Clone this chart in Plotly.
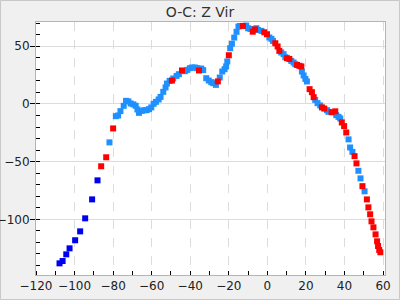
import plotly.graph_objects as go

# Dark blue points
db_x = [-107.8, -106.2, -104.3, -102.6, -99.7, -97.1, -94.5, -90.9, -88.1]
db_y = [-138.1, -136.1, -130.3, -125.1, -118.1, -110.4, -99.1, -82.7, -66.2]

# Light blue points
lb_x = [-81.9, -78.6, -77.4, -76.2, -74.5, -73.3, -72.1, -70.9, -69.5, -68.3,
        -67.4, -66.6, -65.2, -63.8, -62.6, -61.4, -60.2, -59.0, -57.8, -56.4,
        -55.4, -54.0, -52.8, -52.1, -50.7, -48.8, -47.1, -45.9, -42.8, -41.5,
        -40.2, -39.0, -37.6, -36.4, -34.3, -33.3, -31.7, -30.4, -29.1, -28.1,
        -26.7, -24.7, -23.4, -22.2, -21.4, -20.8, -19.3, -18.4, -17.2, -16.0,
        -15.0, -14.2, -11.0, -10.0, -8.8, -5.7, -4.8, -3.1, 1.0, 2.1,
        2.9, 7.2, 8.4, 9.3, 12.4, 13.6, 14.5, 17.9, 18.8, 19.7,
        20.5, 24.8, 26.0, 27.4, 30.9, 31.7, 35.7, 36.9, 37.8, 42.1,
        42.9, 44.1, 47.2, 48.3, 50.4]
lb_y = [-33.3, -10.6, -10.0, -6.2, -1.6, 2.7, 2.2, 0.4, -0.4, -1.6,
        -4.8, -7.7, -6.0, -5.4, -5.4, -4.5, -3.0, 0.1, 1.8, 3.9,
        6.1, 10.5, 14.3, 17.7, 20.0, 22.1, 24.3, 25.8, 28.4, 29.5,
        31.0, 31.6, 31.6, 31.0, 30.7, 29.3, 22.3, 20.3, 18.9, 18.0,
        16.5, 22.9, 28.1, 30.1, 32.5, 36.8, 48.3, 52.2, 57.5, 62.5,
        67.0, 67.5, 67.9, 65.6, 65.0, 65.6, 64.1, 63.3, 57.6, 56.4,
        54.6, 44.6, 43.1, 40.5, 37.3, 35.9, 34.4, 28.1, 24.7, 21.7,
        19.5, 3.5, 0.7, -1.3, -5.4, -6.8, -9.7, -11.2, -12.6, -30.7,
        -37.7, -41.5, -57.9, -64.5, -75.7]

# Red points
rd_x = [-86.2, -83.6, -80.0, -49.5, -44.3, -35.5, -25.7, -20.0, -12.7, -7.6,
        -6.4, -1.6, -0.2, 4.1, 5.3, 6.2, 10.2, 11.4, 15.4, 16.6,
        17.6, 21.9, 23.1, 24.0, 28.3, 29.5, 33.3, 35.2, 38.6, 39.8,
        40.9, 45.2, 46.2, 49.3, 51.6, 52.4, 53.3, 54.0, 55.0, 56.1,
        56.9, 57.4, 58.0, 58.6]
rd_y = [-54.0, -46.2, -21.2, 20.3, 29.0, 29.0, 19.5, 42.2, 67.6, 62.6,
        64.6, 62.1, 60.4, 52.6, 49.8, 46.0, 39.6, 39.0, 33.8, 33.0,
        32.5, 12.8, 10.2, 5.9, -3.0, -4.0, -7.2, -6.4, -16.0, -19.2,
        -24.7, -45.2, -51.5, -71.2, -82.7, -89.6, -95.6, -101.7, -106.9, -113.0,
        -119.0, -123.1, -126.5, -128.5]

title_text = "O-C: Z Vir"
x_ticks = [-120, -100, -80, -60, -40, -20, 0, 20, 40, 60]
y_ticks = [-100, -50, 0, 50]

fig = go.Figure()
mk = dict(symbol="square", size=6, line=dict(width=0))
fig.add_trace(go.Scatter(x=db_x, y=db_y, mode="markers",
                         marker=dict(color="#0000f0", **mk)))
fig.add_trace(go.Scatter(x=lb_x, y=lb_y, mode="markers",
                         marker=dict(color="#1e90ff", **mk)))
fig.add_trace(go.Scatter(x=rd_x, y=rd_y, mode="markers",
                         marker=dict(color="#ff0000", **mk)))

fig.update_layout(
    width=400, height=300,
    margin=dict(l=36, r=15, t=22, b=25),
    paper_bgcolor="#f0f0f0",
    plot_bgcolor="#ffffff",
    showlegend=False,
    font=dict(family="DejaVu Sans", size=12, color="#222222"),
    title=dict(text=title_text, x=0.5, xanchor="center", y=0.96, yanchor="middle",
               font=dict(family="DejaVu Sans", size=14, color="#333333")),
    xaxis=dict(range=[-120, 61], tickvals=x_ticks, ticks="", automargin=False,
               showgrid=True, gridcolor="#dcdcdc", griddash="dash", gridwidth=1,
               zeroline=False, showline=True, linecolor="#b4b4b4", linewidth=1, mirror=True,
               minor=dict(dtick=10, ticks="inside", ticklen=4, tickcolor="#000000",
                          showgrid=False),
               tickfont=dict(size=12, color="#222222")),
    yaxis=dict(range=[-148.2, 71], tickvals=y_ticks, ticks="outside", ticklen=5,
               tickcolor="#000000", automargin=False, ticklabelstandoff=-2,
               showgrid=True, gridcolor="#dcdcdc", gridwidth=1,
               zeroline=False, showline=True, linecolor="#b4b4b4", linewidth=1, mirror=True,
               minor=dict(dtick=10, tick0=0, ticks="inside", ticklen=4, tickcolor="#000000",
                          showgrid=False),
               tickfont=dict(size=12, color="#222222")),
    shapes=[dict(type="rect", xref="paper", yref="paper",
                 x0=-0.1017, x1=1.0415, y0=-0.0968, y1=1.085,
                 line=dict(color="#c8c8c8", width=1), fillcolor="rgba(0,0,0,0)",
                 layer="below")],
)

fig.write_html("out.html")
